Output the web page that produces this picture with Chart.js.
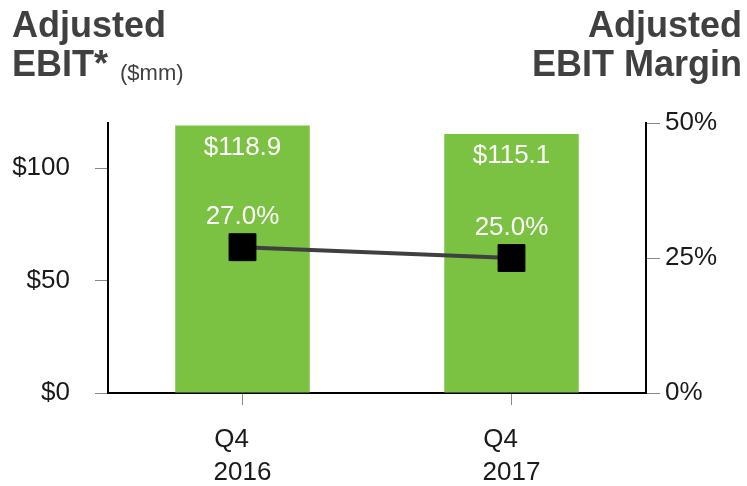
<!DOCTYPE html>
<html>
<head>
<meta charset="utf-8">
<script src="https://cdn.jsdelivr.net/npm/chart.js@4.4.1/dist/chart.umd.min.js"></script>
<style>
    body { margin: 0; background: #fff; }
    #wrap { position: relative; width: 747px; height: 486px; }
    canvas { position: absolute; left: 0; top: 0; }
    .title {
        position: absolute;
        top: 5px;
        font-family: "Liberation Sans", Arial, sans-serif;
        font-weight: bold;
        font-size: 36px;
        line-height: 39px;
        color: #404040;
        white-space: nowrap;
    }
    .title small { font-weight: normal; font-size: 22px; vertical-align: -4px; margin-left: 2px; }
</style>
</head>
<body>
<div id="wrap">
    <canvas id="chart" width="747" height="486"></canvas>
    <div class="title" style="left:12px">Adjusted<br>EBIT* <small>($mm)</small></div>
    <div class="title" style="right:5px; text-align:right">Adjusted<br>EBIT Margin</div>
</div>
<script>
var quarters = ['Q4', 'Q4'];
var years = ['2016', '2017'];
var ebit = [118.9, 115.1];       // $mm
var margin = [27.0, 25.0];       // %
var ebitTicks = [0, 50, 100];

// "Q4" sits left aligned above the year in the original
var labels = quarters.map(function(q, i) { return [q + '   ', years[i]]; });

Chart.defaults.font.family = '"Liberation Sans", Arial, sans-serif';

// white value labels on bars and above the markers
var valueLabels = {
    id: 'valueLabels',
    afterDatasetsDraw: function(chart) {
        var ctx = chart.ctx;
        ctx.save();
        ctx.fillStyle = '#ffffff';
        ctx.font = '26px "Liberation Sans", Arial, sans-serif';
        ctx.textAlign = 'center';
        ctx.textBaseline = 'middle';
        chart.getDatasetMeta(1).data.forEach(function(bar, i) {
            ctx.fillText('$' + ebit[i].toFixed(1), bar.x, bar.y + 22);
        });
        chart.getDatasetMeta(0).data.forEach(function(pt, i) {
            ctx.fillText(margin[i].toFixed(1) + '%', pt.x, pt.y - 30);
        });
        ctx.restore();
    }
};

var ctx = document.getElementById('chart').getContext('2d');
var chart = new Chart(ctx, {
    data: {
        labels: labels,
        datasets: [{
            type: 'line',
            data: margin,
            yAxisID: 'y1',
            borderColor: '#404040',
            borderWidth: 4,
            pointStyle: 'rect',
            pointRadius: 19,
            pointBackgroundColor: '#000000',
            pointBorderColor: '#000000',
            pointBorderWidth: 1,
            order: 0
        }, {
            type: 'bar',
            data: ebit,
            yAxisID: 'y',
            backgroundColor: '#7bc142',
            barPercentage: 0.5,
            categoryPercentage: 1,
            order: 1
        }]
    },
    options: {
        responsive: false,
        animation: false,
        layout: { padding: { top: 123, left: 0, right: 0, bottom: 0 } },
        plugins: {
            legend: { display: false },
            tooltip: { enabled: false }
        },
        scales: {
            x: {
                offset: true,
                grid: { drawOnChartArea: false, offset: false, tickLength: 12, color: '#888' },
                border: { color: '#000', width: 2 },
                ticks: { color: '#1a1a1a', font: { size: 26, lineHeight: 1.27 }, padding: 18, maxRotation: 0 },
                afterFit: function(s) { s.height = 93; }
            },
            y: {
                position: 'left',
                min: 0,
                max: 120,
                grid: { drawOnChartArea: false, tickLength: 13, color: '#888' },
                border: { color: '#000', width: 2 },
                ticks: {
                    color: '#1a1a1a',
                    font: { size: 26 },
                    padding: 25,
                    stepSize: 50,
                    callback: function(v) { return '$' + v; }
                },
                afterBuildTicks: function(s) {
                    s.ticks = ebitTicks.map(function(v) { return { value: v }; });
                },
                afterFit: function(s) { s.width = 108; }
            },
            y1: {
                position: 'right',
                min: 0,
                max: 50,
                grid: { drawOnChartArea: false, tickLength: 14, color: '#888' },
                border: { color: '#000', width: 2 },
                ticks: {
                    color: '#1a1a1a',
                    font: { size: 26 },
                    padding: 5,
                    stepSize: 25,
                    callback: function(v) { return v + '%'; }
                },
                afterFit: function(s) { s.width = 101; }
            }
        }
    },
    plugins: [valueLabels]
});
</script>
</body>
</html>
